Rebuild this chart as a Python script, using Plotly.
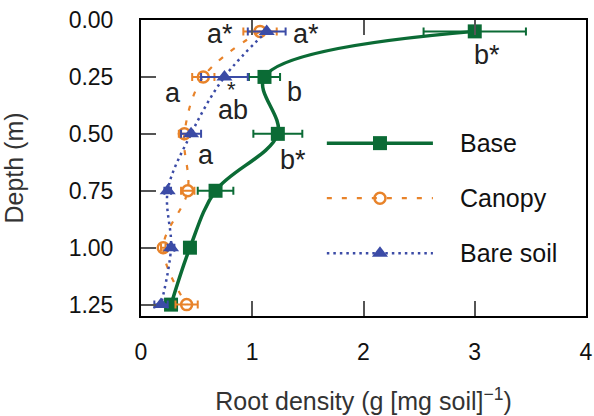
import plotly.graph_objects as go

# ---- data ----
depth = [0.05, 0.25, 0.50, 0.75, 1.00, 1.25]
base = [3.00, 1.11, 1.23, 0.67, 0.44, 0.27]
base_err = [0.46, 0.14, 0.22, 0.16, 0.04, 0.03]
canopy = [1.07, 0.56, 0.39, 0.42, 0.20, 0.41]
canopy_err = [0.15, 0.10, 0.05, 0.06, 0.02, 0.10]
bare = [1.13, 0.75, 0.45, 0.24, 0.27, 0.18]
bare_err = [0.17, 0.21, 0.09, 0.03, 0.03, 0.06]

series_names = ["Base", "Canopy", "Bare soil"]
x_ticks = [0, 1, 2, 3, 4]
y_ticks = [0.00, 0.25, 0.50, 0.75, 1.00, 1.25]

# significance letters: (text, x, depth)
letters = [("a*", 0.71, 0.063), ("a*", 1.48, 0.063), ("b*", 3.11, 0.155),
           ("a", 0.29, 0.322), ("*", 0.815, 0.305), ("ab", 0.83, 0.396),
           ("b", 1.38, 0.317), ("a", 0.58, 0.593), ("b*", 1.37, 0.615)]

GREEN = "#0B6B35"
ORANGE = "#E8832A"
BLUE = "#3B4BA6"
FONT = "Liberation Sans, Arial, sans-serif"

styles = {
    "Base": dict(color=GREEN, lw=3.5, dash="solid", symbol="square", size=14, lwm=0, fill=GREEN),
    "Canopy": dict(color=ORANGE, lw=2.2, dash="5px,10px", symbol="circle-open", size=11, lwm=2.5, fill=ORANGE),
    "Bare soil": dict(color=BLUE, lw=2.5, dash="2.5px,4px", symbol="triangle-up", size=14, lwm=0, fill=BLUE),
}

fig = go.Figure()
for name, xs, errs in [("Base", base, base_err), ("Canopy", canopy, canopy_err), ("Bare soil", bare, bare_err)]:
    s = styles[name]
    fig.add_trace(go.Scatter(
        x=xs, y=depth, name=name, mode="lines+markers",
        line=dict(color=s["color"], width=s["lw"], dash=s["dash"], shape="spline", smoothing=1.0),
        marker=dict(symbol=s["symbol"], size=s["size"], color=s["fill"],
                    line=dict(color=s["color"], width=s["lwm"])),
        error_x=dict(type="data", array=errs, visible=True, color=s["color"], thickness=2, width=4),
        showlegend=False,
    ))

# manual legend on overlay axes
leg_rows = [0.584, 0.398, 0.212]
for name, yy in zip(series_names, leg_rows):
    s = styles[name]
    fig.add_trace(go.Scatter(x=[0.4176, 0.656], y=[yy, yy], mode="lines", xaxis="x2", yaxis="y3",
                             line=dict(color=s["color"], width=s["lw"], dash=s["dash"]),
                             showlegend=False, hoverinfo="skip"))
    fig.add_trace(go.Scatter(x=[0.537], y=[yy], mode="markers", xaxis="x2", yaxis="y3",
                             marker=dict(symbol=s["symbol"], size=s["size"], color=s["fill"],
                                         line=dict(color=s["color"], width=s["lwm"])),
                             showlegend=False, hoverinfo="skip"))
    fig.add_annotation(x=0.712, y=yy, xref="x2", yref="y3", text=name, showarrow=False,
                       xanchor="left", yanchor="middle", font=dict(size=25, color="#111", family=FONT))

for txt, xx, yy in letters:
    fig.add_annotation(x=xx, y=yy, xref="x", yref="y", text=txt, showarrow=False,
                       xanchor="center", yanchor="middle",
                       font=dict(size=27 if txt != "*" else 22, color="#222", family=FONT))

fig.update_layout(
    width=594, height=416,
    margin=dict(l=141, r=8, t=20, b=100),
    plot_bgcolor="white", paper_bgcolor="white",
    font=dict(family=FONT, size=23, color="#111"),
    xaxis=dict(range=[0, 4], tickvals=x_ticks, ticks="inside", ticklen=15, tickwidth=1.5,
               tickcolor="#555", showline=True, linecolor="black", linewidth=2, mirror="ticks",
               showgrid=False, zeroline=False, ticklabelstandoff=14, automargin=False,
               title=dict(text="Root density (g [mg soil]<sup>−1</sup>)", standoff=29,
                          font=dict(size=25, color="#333"))),
    yaxis=dict(range=[1.30, 0], tickvals=y_ticks, tickformat=".2f", ticks="inside", ticklen=15,
               tickwidth=1.5, tickcolor="#555", showline=True, linecolor="black", linewidth=2,
               mirror=True, showgrid=False, zeroline=False, ticklabelstandoff=21, automargin=False,
               title=dict(text="Depth (m)", standoff=38, font=dict(size=25, color="#333"))),
    yaxis2=dict(overlaying="y", side="right", range=[7, 0], dtick=1, ticks="inside", ticklen=15,
                tickwidth=1.5, tickcolor="#555", showticklabels=False, showgrid=False,
                zeroline=False, showline=False, automargin=False),
    xaxis2=dict(overlaying="x", range=[0, 1], visible=False, automargin=False),
    yaxis3=dict(overlaying="y", range=[0, 1], visible=False, automargin=False),
)

fig.write_html("out.html")
